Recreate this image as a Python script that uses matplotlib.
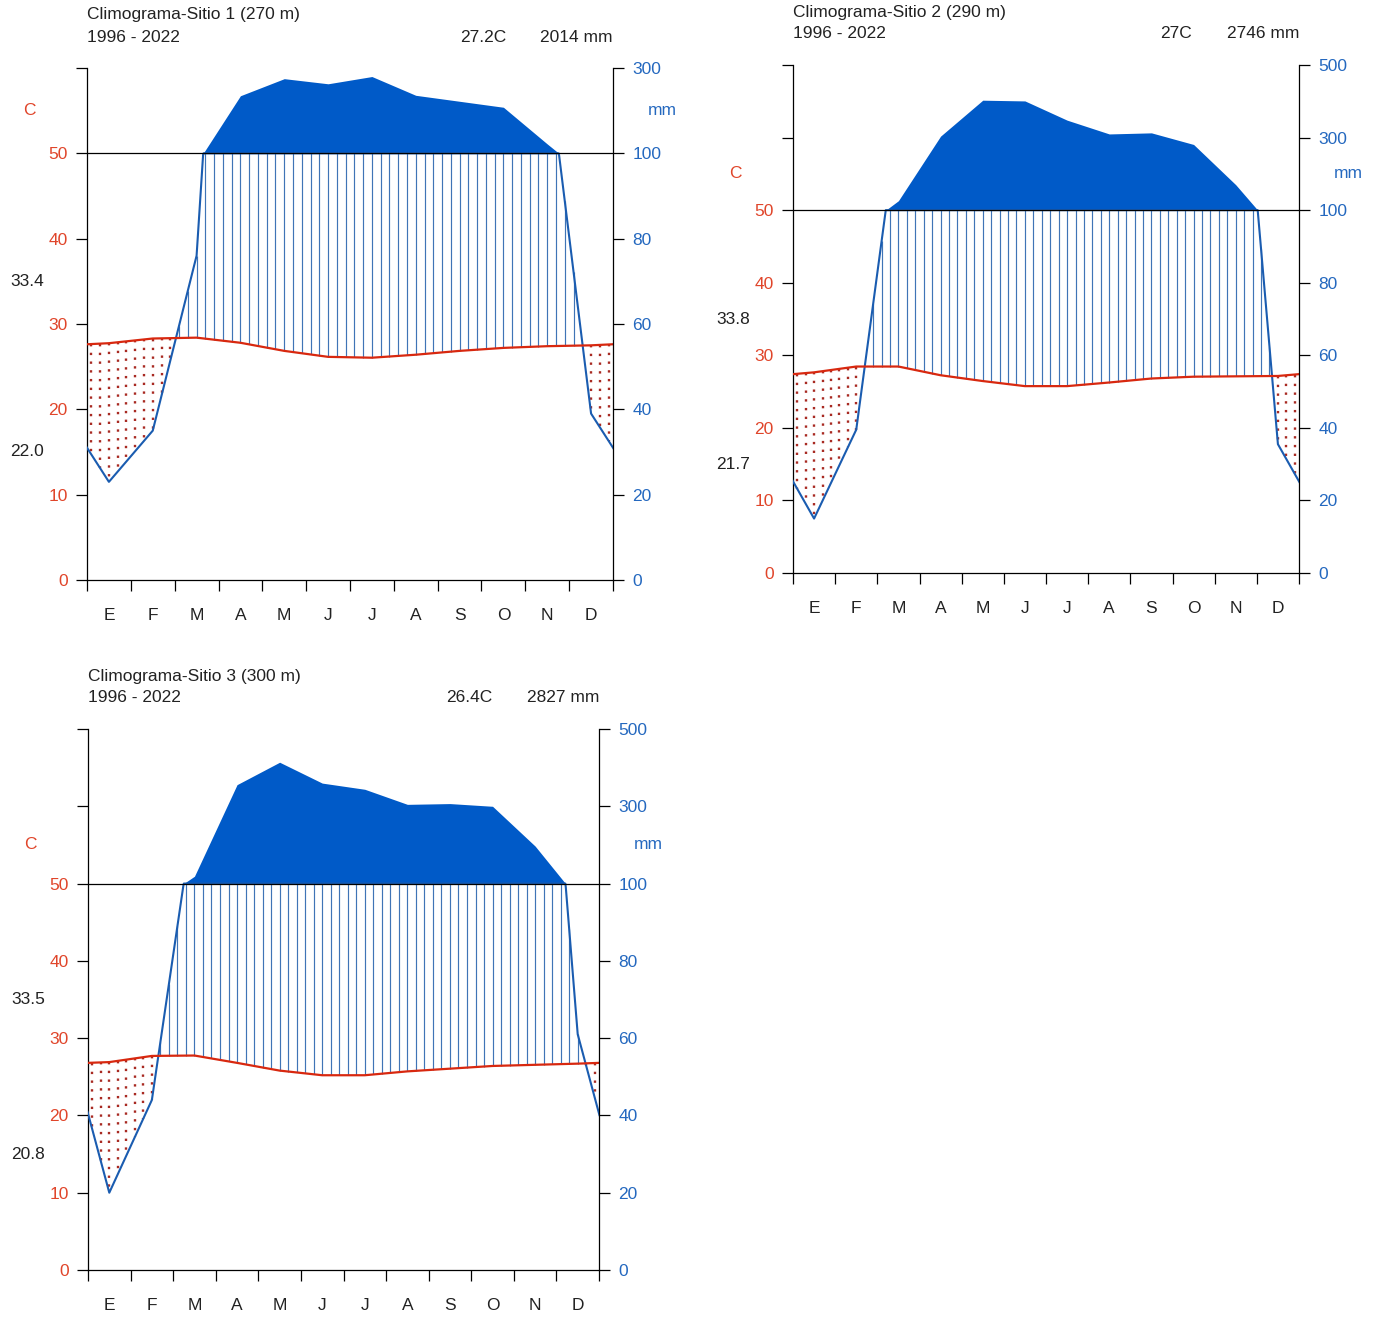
import numpy as np
import matplotlib.pyplot as plt

plt.rcParams['font.family'] = ['Liberation Sans', 'DejaVu Sans']

# monthly means, station by station (temperature in C, precipitation in mm)
months = ['E', 'F', 'M', 'A', 'M', 'J', 'J', 'A', 'S', 'O', 'N', 'D']
names = ['Climograma-Sitio 1 (270 m)', 'Climograma-Sitio 2 (290 m)',
         'Climograma-Sitio 3 (300 m)']
period = '1996 - 2022'

temp_s1 = [27.75, 28.3, 28.4, 27.8, 26.85, 26.15, 26.05, 26.4, 26.85, 27.2, 27.4, 27.5]
prec_s1 = [23, 35, 76, 235, 275, 263, 280, 236, 222, 208, 122, 39]

temp_s2 = [27.65, 28.45, 28.45, 27.25, 26.45, 25.75, 25.75, 26.25, 26.8, 27.05, 27.1, 27.15]
prec_s2 = [15, 39.5, 126, 304, 403, 401, 348, 310, 313, 281, 170, 35.5]

temp_s3 = [26.9, 27.7, 27.75, 26.8, 25.8, 25.2, 25.2, 25.7, 26.05, 26.4, 26.55, 26.7]
prec_s3 = [20, 44, 119, 356, 414, 360, 344, 305, 307, 300, 197, 61]

# absolute max of the warmest month / min of the coldest month
tmax_abs = [33.4, 33.8, 33.5]
tmin_abs = [22.0, 21.7, 20.8]

TCOL = '#d8280f'
PCOL = '#005ac8'
LINE = '#1a5cb0'
HATCH = '#3f74b6'
DOTS = '#a82a22'
TLAB = '#e0452a'
PLAB = '#2468bf'

W, H = 1378, 1317


def px_rect(left, right, bottom, top):
    ''' axes rectangle from pixel edges '''
    return [left / W, (H - bottom) / H, (right - left) / W, (bottom - top) / H]


def scale_prec(p):
    ''' mm -> diagram units: 1/2 up to 100 mm, 1/20 above '''
    p = np.asarray(p, float)
    return np.where(p > 100, 50 + (p - 100) * 0.05, p / 2)


def climograma(fig, rect, name, temp, prec, tmx, tmn):
    temp = np.asarray(temp, float)
    prec = np.asarray(prec, float)
    ymax = 60
    if prec.max() > 300:
        ymax = 50 + 10 * np.floor((prec.max() + 100) / 200)

    ax = fig.add_axes(rect)
    ax.set_xlim(0, 12)
    ax.set_ylim(0, ymax)

    # curves run half a month past each edge (Dec before, Jan after)
    x = np.arange(14) - 0.5
    t2 = np.r_[temp[-1], temp, temp[0]]
    p2 = np.r_[prec[-1], prec, prec[0]]

    # wet / dry periods, five segments per month
    xi = np.linspace(-0.5, 12.5, 66)
    ti = np.interp(xi, x, t2)
    pi = np.minimum(scale_prec(np.interp(xi, x, p2)), 50)
    wet = pi > ti
    ax.vlines(xi[wet], ti[wet], pi[wet], color=HATCH, lw=0.85, zorder=2)
    ax.vlines(xi[~wet], ti[~wet], pi[~wet], color=DOTS, lw=1.7,
              linestyles=[(0, (1, 2.7))], zorder=2)

    xf = np.linspace(-0.5, 12.5, 1301)
    pf = scale_prec(np.interp(xf, x, p2))
    ax.fill_between(xf, 50, np.maximum(pf, 50), color=PCOL, lw=0, zorder=3)
    ax.plot(xf, np.minimum(pf, 50), color=LINE, lw=1.5, zorder=4)
    ax.plot(x, t2, color=TCOL, lw=1.6, zorder=4)
    ax.axhline(50, color='k', lw=0.9, zorder=5)

    for s in ['left', 'right', 'bottom']:
        ax.spines[s].set_linewidth(0.9)
    ax.spines['top'].set_visible(False)
    ax.spines['right'].set_visible(False)

    ax.set_xticks(np.arange(13))
    ax.set_xticklabels([])
    ax.set_xticks(np.arange(12) + 0.5, minor=True)
    ax.set_xticklabels(months, minor=True, color='#222222')
    ax.tick_params(axis='x', which='major', length=8, width=0.9)
    ax.tick_params(axis='x', which='minor', length=0, pad=20, labelsize=12.5)

    yt = np.arange(0, ymax + 1, 10)
    ax.set_yticks(yt)
    ax.set_yticklabels(['%d' % v if v <= 50 else '' for v in yt])
    ax.tick_params(axis='y', length=8, width=0.9, pad=6, labelsize=12.5,
                   labelcolor=TLAB)

    ax2 = ax.twinx()
    ax2.set_ylim(0, ymax)
    ax2.set_yticks(yt)
    ax2.set_yticklabels(['%d' % (v * 2) if v <= 50 else '%d' % (100 + (v - 50) * 20)
                         for v in yt])
    ax2.tick_params(axis='y', length=8, width=0.9, pad=6, labelsize=12.5,
                    labelcolor=PLAB)
    for s in ['left', 'top', 'bottom']:
        ax2.spines[s].set_visible(False)
    ax2.spines['right'].set_linewidth(0.9)

    pt = 0.72  # points per pixel at dpi 100
    side = dict(xycoords=('axes fraction', 'data'), textcoords='offset points',
                va='center', fontsize=12.5)
    ax.annotate('C', xy=(0, 55), xytext=(-58 * pt, 0), ha='center',
                color=TLAB, **side)
    ax.annotate('mm', xy=(1, 55), xytext=(49 * pt, 0), ha='center',
                color=PLAB, **side)
    ax.annotate('%.1f' % tmx, xy=(0, 35), xytext=(-60 * pt, 0), ha='center',
                color='#222222', **side)
    ax.annotate('%.1f' % tmn, xy=(0, 15), xytext=(-60 * pt, 0), ha='center',
                color='#222222', **side)

    head = dict(xycoords='axes fraction', textcoords='offset points',
                va='center', fontsize=12.5, color='#222222')
    ax.annotate(name, xy=(0, 1), xytext=(0, 53 * pt), ha='left', **head)
    ax.annotate(period, xy=(0, 1), xytext=(0, 31 * pt), ha='left', **head)
    ax.annotate('%gC' % round(temp.mean(), 1), xy=(1, 1),
                xytext=(-107 * pt, 31 * pt), ha='right', **head)
    ax.annotate('%d mm' % round(prec.sum()), xy=(1, 1),
                xytext=(0, 31 * pt), ha='right', **head)
    return ax


fig = plt.figure(figsize=(W / 100, H / 100), dpi=100)
climograma(fig, px_rect(87, 613, 580, 68), names[0], temp_s1, prec_s1,
           tmax_abs[0], tmin_abs[0])
climograma(fig, px_rect(793, 1299, 573, 65), names[1], temp_s2, prec_s2,
           tmax_abs[1], tmin_abs[1])
climograma(fig, px_rect(88, 599, 1270, 729), names[2], temp_s3, prec_s3,
           tmax_abs[2], tmin_abs[2])
fig.savefig('out.png', dpi=100, facecolor='white')
